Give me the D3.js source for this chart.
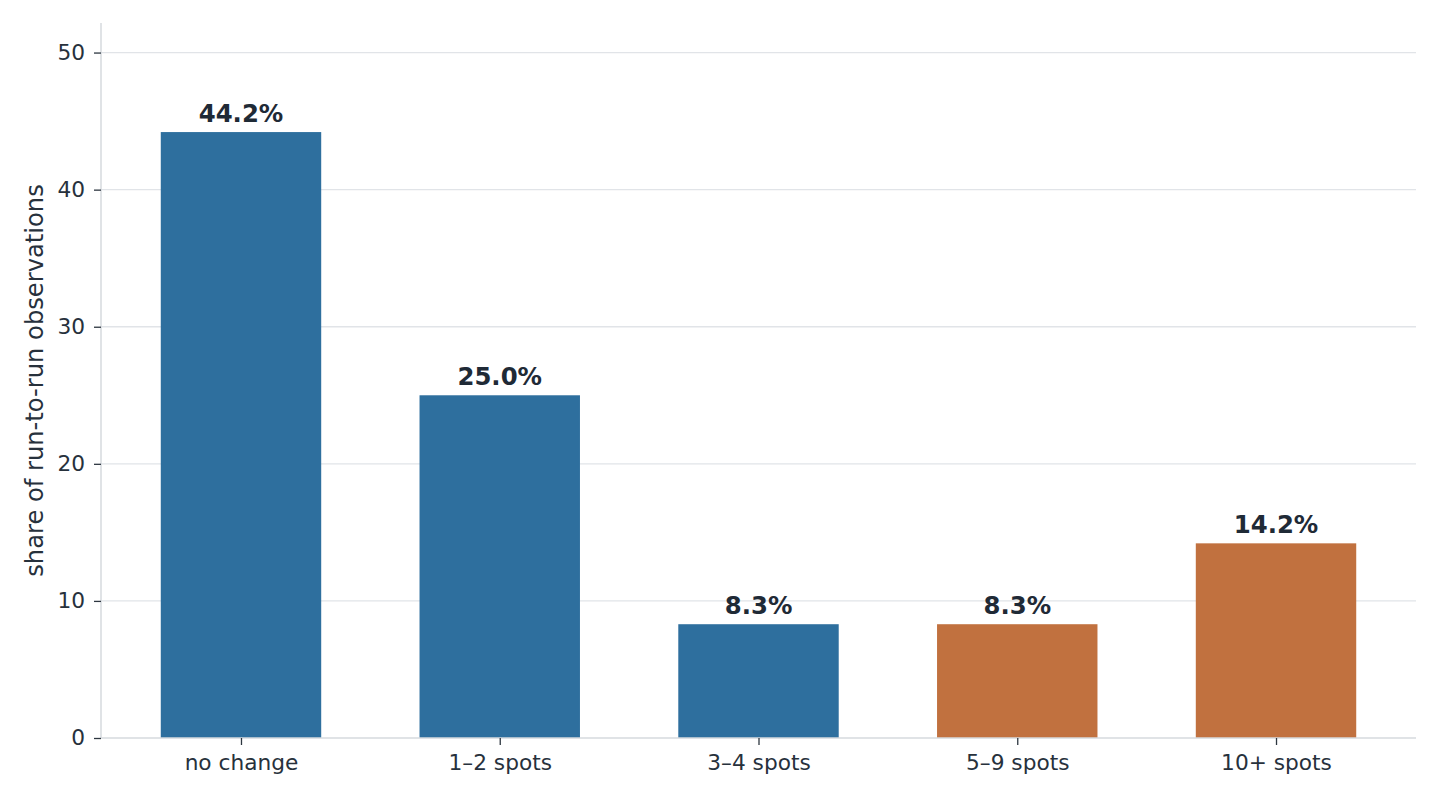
<!DOCTYPE html>
<html>
<head>
<meta charset="utf-8">
<script src="https://cdn.jsdelivr.net/npm/d3@7"></script>
<style>
  body { margin: 0; background: #fff; }
  svg text { font-family: "DejaVu Sans", sans-serif; }
</style>
</head>
<body>
<div id="chart"></div>
<script>
// categories and values (share of run-to-run observations, %)
var categories = ["no change", "1\u20132 spots", "3\u20134 spots", "5\u20139 spots", "10+ spots"];
var shares = [44.2, 25.0, 8.3, 8.3, 14.2];
var groups = ["small", "small", "small", "large", "large"];
var yTicks = [0, 10, 20, 30, 40, 50];

var colors = { small: "#2e6f9e", large: "#c1713f" };
var textColor = "#1f2a36";

var W = 1440, H = 800;
var margin = { top: 23, right: 24, bottom: 62, left: 101 };
var width = W - margin.left - margin.right,
    height = H - margin.top - margin.bottom;

var svg = d3.select("#chart").append("svg")
    .attr("width", W)
    .attr("height", H)
    .append("g")
    .attr("transform", "translate(" + margin.left + "," + margin.top + ")");

// bar width in category units, x range padded like matplotlib's default margins
var barW = 0.62;
var xMin = -barW / 2, xMax = categories.length - 1 + barW / 2;
var pad = (xMax - xMin) * 0.05;

var x = d3.scaleLinear()
    .domain([xMin - pad, xMax + pad])
    .range([0, width]);

var y = d3.scaleLinear()
    .domain([0, d3.max(shares) * 1.18])
    .range([height, 0]);

// grid lines
svg.append("g")
    .selectAll("line")
    .data(yTicks.filter(function(d) { return d > 0; }))
    .enter()
    .append("line")
    .attr("x1", 0)
    .attr("x2", width)
    .attr("y1", function(d) { return y(d); })
    .attr("y2", function(d) { return y(d); })
    .attr("stroke", "#e1e4e8")
    .attr("stroke-width", 1.3);

// bars
svg.append("g")
    .selectAll("rect")
    .data(shares)
    .enter()
    .append("rect")
    .attr("x", function(d, i) { return x(i - barW / 2); })
    .attr("width", function(d, i) { return x(i + barW / 2) - x(i - barW / 2); })
    .attr("y", function(d) { return y(d); })
    .attr("height", function(d) { return y(0) - y(d); })
    .attr("fill", function(d, i) { return colors[groups[i]]; });

// value labels
svg.append("g")
    .selectAll("text")
    .data(shares)
    .enter()
    .append("text")
    .attr("x", function(d, i) { return x(i); })
    .attr("y", function(d) { return y(d) - 10; })
    .attr("text-anchor", "middle")
    .attr("font-size", "24.4px")
    .attr("font-weight", "bold")
    .attr("fill", textColor)
    .text(function(d) { return d.toFixed(1) + "%"; });

// axes
var yAxis = d3.axisLeft(y)
    .tickValues(yTicks)
    .tickSize(7)
    .tickPadding(9)
    .tickFormat(d3.format("d"));

var xAxis = d3.axisBottom(x)
    .tickValues(d3.range(categories.length))
    .tickSize(7)
    .tickPadding(10)
    .tickFormat(function(i) { return categories[i]; });

var gy = svg.append("g").attr("class", "y-axis").call(yAxis);
var gx = svg.append("g").attr("class", "x-axis")
    .attr("transform", "translate(0," + height + ")")
    .call(xAxis);

[gx, gy].forEach(function(g) {
    g.select(".domain").attr("stroke", "#d6dade").attr("stroke-width", 1.5);
    g.selectAll(".tick line").attr("stroke", "#2d3640").attr("stroke-width", 1.3);
    g.selectAll(".tick text")
        .attr("fill", "#27313c")
        .attr("font-size", "21.7px")
        .attr("font-family", "DejaVu Sans, sans-serif");
});
gy.select(".domain").attr("d", "M0," + height + "V0");
gx.select(".domain").attr("d", "M0,0H" + width);

// y axis label
svg.append("text")
    .attr("transform", "translate(" + (35 - margin.left) + "," + (height / 2) + ") rotate(-90)")
    .attr("text-anchor", "middle")
    .attr("dominant-baseline", "central")
    .attr("font-size", "24.2px")
    .attr("fill", "#27313c")
    .text("share of run-to-run observations");
</script>
</body>
</html>
